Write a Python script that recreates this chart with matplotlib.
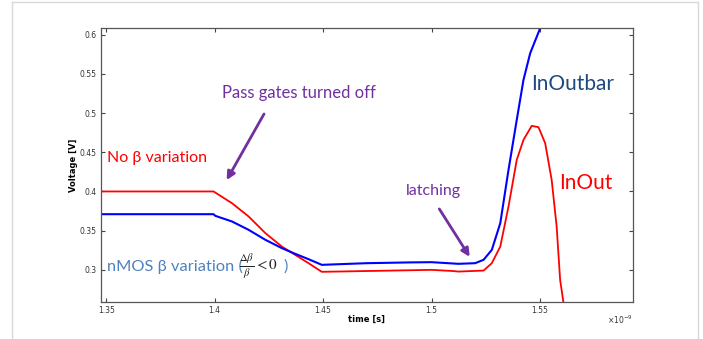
import matplotlib.pyplot as plt
from matplotlib.lines import Line2D

# time axis in units of 1e-9 s
t_inout = [1.3476, 1.3995, 1.4003, 1.408, 1.4157, 1.4234, 1.431, 1.4364, 1.4433, 1.4494,
           1.47, 1.49, 1.50, 1.51, 1.5124, 1.524, 1.5278, 1.5317, 1.5355, 1.5393,
           1.5424, 1.5462, 1.5493, 1.5524, 1.5554, 1.5577, 1.5593, 1.5608]
v_inout = [0.400, 0.400, 0.3986, 0.385, 0.368, 0.3468, 0.3297, 0.3204, 0.3085, 0.2975,
           0.2985, 0.2995, 0.300, 0.2985, 0.2978, 0.2991, 0.3085, 0.3297, 0.3808, 0.4403,
           0.4658, 0.4837, 0.482, 0.4616, 0.4148, 0.3552, 0.2872, 0.259]

t_inoutbar = [1.3476, 1.3995, 1.4003, 1.408, 1.4157, 1.4234, 1.431, 1.4364, 1.4433, 1.4494,
              1.47, 1.49, 1.50, 1.5124, 1.5201, 1.524, 1.5278, 1.5317, 1.5355, 1.5393,
              1.5424, 1.5455, 1.5501]
v_inoutbar = [0.371, 0.371, 0.3689, 0.3617, 0.351, 0.3383, 0.3277, 0.3213, 0.3136, 0.3064,
              0.3085, 0.3095, 0.3098, 0.3077, 0.3085, 0.3128, 0.3255, 0.3595, 0.4276, 0.4913,
              0.5423, 0.5764, 0.6083]

xticks = [1.35, 1.40, 1.45, 1.50, 1.55]
xtick_labels = ["1.35", "1.4", "1.45", "1.5", "1.55"]
yticks = [0.30, 0.35, 0.40, 0.45, 0.50, 0.55, 0.60]
ytick_labels = ["0.3", "0.35", "0.4", "0.45", "0.5", "0.55", "0.6"]

purple = "#7030A0"
ann_font = "Lato"

fig = plt.figure(figsize=(7.03, 3.39), dpi=100)
ax = fig.add_axes([101 / 703, 37 / 339, 532 / 703, 274 / 339])

ax.plot(t_inout, v_inout, color="#FF0000", lw=1.3)
ax.plot(t_inoutbar, v_inoutbar, color="#0000FF", lw=1.5)

ax.set_xlim(1.3476, 1.5929)
ax.set_ylim(0.259, 0.6085)
ax.set_xticks(xticks)
ax.set_xticklabels(xtick_labels)
ax.set_yticks(yticks)
ax.set_yticklabels(ytick_labels)
ax.tick_params(direction="in", top=True, right=True, length=3, width=0.8,
               labelsize=5.5, labelcolor="#333333", color="#444444", pad=3)
for s in ax.spines.values():
    s.set_color("#555555")
    s.set_linewidth(0.9)

ax.set_xlabel("time [s]", fontsize=6, fontweight="bold", labelpad=0)
ax.set_ylabel("Voltage [V]", fontsize=6, fontweight="bold", labelpad=1)
fig.text(633 / 703, 1 - 320 / 339, r"$\times10^{-9}$", fontsize=5.5, color="#333333",
         ha="right", va="center")

# annotations
ax.annotate("", xy=(1.4049, 0.4114), xytext=(1.4234, 0.5019),
            arrowprops=dict(arrowstyle="-|>", color=purple, lw=2, mutation_scale=12))
ax.text(1.4387, 0.5258, "Pass gates turned off", color=purple, fontsize=12,
        family=ann_font, ha="center", va="center")

ax.annotate("", xy=(1.5183, 0.3136), xytext=(1.5029, 0.3807),
            arrowprops=dict(arrowstyle="-|>", color=purple, lw=2, mutation_scale=12))
ax.text(1.5009, 0.4011, "latching", color=purple, fontsize=11.5,
        family=ann_font, ha="center", va="center")

ax.text(1.3504, 0.4425, "No β variation", color="#FF0000", fontsize=11.5,
        family=ann_font, ha="left", va="center")
ax.text(1.3502, 0.3045, "nMOS β variation (", color="#4F81BD", fontsize=11.8,
        family=ann_font, ha="left", va="center")
ax.text(1.4113, 0.3045, r"$\frac{\Delta\beta}{\beta} < 0$", color="#222222", fontsize=11,
        ha="left", va="center", math_fontfamily="stix")
ax.text(1.4318, 0.3045, ")", color="#4F81BD", fontsize=11.8,
        family=ann_font, ha="left", va="center")

ax.text(1.5459, 0.5369, "InOutbar", color="#1F497D", fontsize=15,
        family=ann_font, ha="left", va="center")
ax.text(1.5588, 0.4114, "InOut", color="#FF0000", fontsize=15,
        family=ann_font, ha="left", va="center")

# light slide frame
fig.add_artist(Line2D([12 / 703, 12 / 703], [0, 1 - 2 / 339], color="#d9d9d9", lw=1))
fig.add_artist(Line2D([698 / 703, 698 / 703], [0, 1 - 2 / 339], color="#d9d9d9", lw=1))
fig.add_artist(Line2D([12 / 703, 698 / 703], [1 - 2 / 339, 1 - 2 / 339], color="#d9d9d9", lw=1))

fig.savefig("out.png", dpi=100)
